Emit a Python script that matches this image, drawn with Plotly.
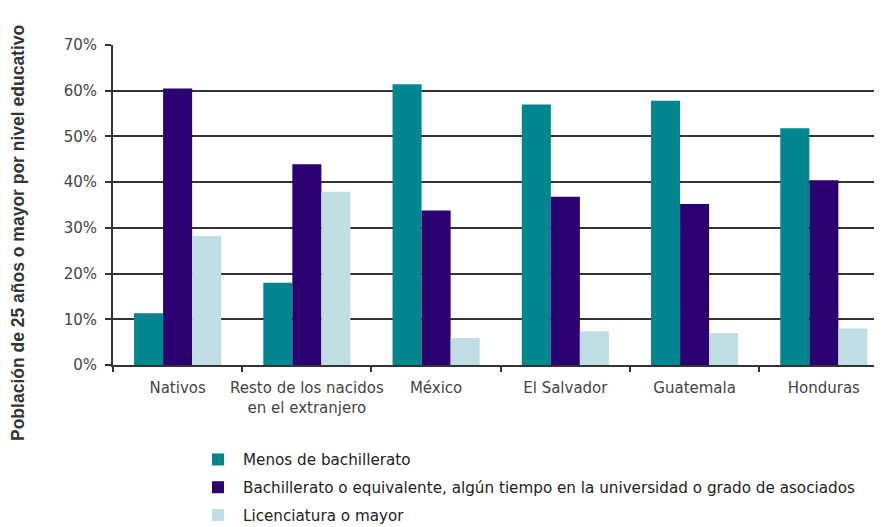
import plotly.graph_objects as go

categories = ["Nativos", "Resto de los nacidos<br>en el extranjero", "México",
              "El Salvador", "Guatemala", "Honduras"]

menos_bachillerato = [11.3, 18.0, 61.4, 57.0, 57.8, 51.8]
bachillerato = [60.5, 43.9, 33.8, 36.8, 35.2, 40.4]
licenciatura = [28.2, 37.9, 5.9, 7.4, 7.0, 8.0]

series_names = [
    "Menos de bachillerato",
    "Bachillerato o equivalente, algún tiempo en la universidad o grado de asociados",
    "Licenciatura o mayor",
]
colors = ["#00868F", "#2B0070", "#BFDEE3"]

y_ticks = [0, 10, 20, 30, 40, 50, 60, 70]
y_title = "Población de 25 años o mayor por nivel educativo"

fig = go.Figure()
for name, vals, col in zip(series_names, [menos_bachillerato, bachillerato, licenciatura], colors):
    fig.add_trace(
        go.Bar(
            x=categories,
            y=vals,
            name=name,
            marker=dict(color=col, line=dict(width=0)),
            legendgroup=name,
        )
    )

# page body has an 8px margin, so the figure is sized/placed to compensate
fig.update_layout(
    width=874,
    height=519,
    margin=dict(l=105, r=0, t=37, b=162, autoexpand=False),
    plot_bgcolor="white",
    paper_bgcolor="white",
    barmode="group",
    bargap=0.326,
    bargroupgap=0,
    font=dict(family="DejaVu Sans, sans-serif", size=15, color="#333333"),
    showlegend=True,
    legend=dict(
        orientation="v",
        x=0.104,
        y=-0.244,
        xanchor="left",
        yanchor="top",
        traceorder="grouped",
        tracegroupgap=5,
        itemwidth=40,
        font=dict(family="DejaVu Sans, sans-serif", size=15.2, color="#222222"),
        bgcolor="rgba(0,0,0,0)",
    ),
)

fig.update_xaxes(
    range=[-0.5, 5.45],
    automargin=False,
    tickangle=0,
    showline=True,
    linecolor="#333333",
    linewidth=2,
    ticks="outside",
    tickson="boundaries",
    ticklen=5,
    tickcolor="#333333",
    tickwidth=2,
    ticklabelstandoff=8,
    showgrid=False,
    tickfont=dict(size=15, color="#444444"),
)

fig.update_yaxes(
    range=[0, 70],
    automargin=False,
    tickvals=y_ticks,
    ticktext=[f"{v}%" for v in y_ticks],
    showline=True,
    linecolor="#333333",
    linewidth=2,
    ticks="outside",
    ticklen=6,
    tickcolor="#333333",
    tickwidth=2,
    ticklabelstandoff=5,
    showgrid=True,
    gridcolor="#333333",
    gridwidth=2,
    zeroline=False,
    tickfont=dict(size=15, color="#444444"),
)

fig.add_annotation(
    text=f"<b>{y_title}</b>",
    textangle=-90,
    xref="paper",
    yref="paper",
    x=0,
    y=0.5,
    xshift=-95,
    yshift=-28,
    xanchor="center",
    yanchor="middle",
    showarrow=False,
    font=dict(family="Liberation Sans, Arial, sans-serif", size=17.5, color="#333333"),
)

fig.write_html("out.html")
